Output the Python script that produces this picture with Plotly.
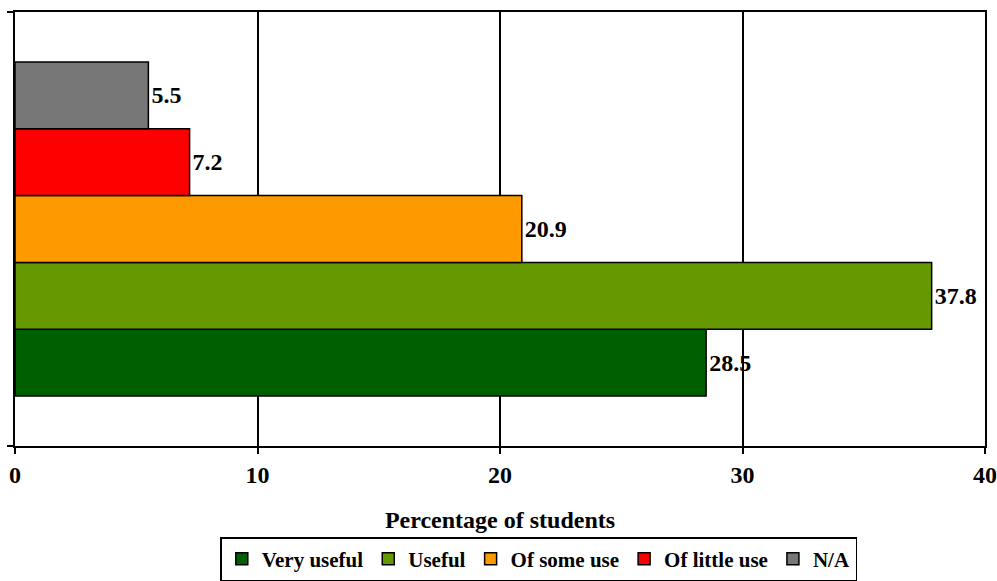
import plotly.graph_objects as go

series = ["Very useful", "Useful", "Of some use", "Of little use", "N/A"]
values = [28.5, 37.8, 20.9, 7.2, 5.5]
colors = ["#006000", "#669900", "#FF9900", "#FF0000", "#777777"]
x_ticks = [0, 10, 20, 30, 40]

font_family = "Liberation Serif, Times New Roman, serif"

fig = go.Figure()
for name, val, col in zip(series, values, colors):
    fig.add_trace(go.Bar(
        y=[0], x=[val], name=f"<b>{name}</b>", orientation="h",
        marker=dict(color=col, line=dict(color="black", width=1.5)),
        texttemplate="<b>%{x:.1f}</b>", textposition="outside",
        textfont=dict(family=font_family, size=24, color="black"),
        cliponaxis=False,
    ))

fig.update_layout(
    barmode="group",
    bargap=0.23,
    bargroupgap=0,
    width=997, height=581,
    margin=dict(l=15, r=12, t=12, b=135, autoexpand=False),
    plot_bgcolor="white", paper_bgcolor="white",
    font=dict(family=font_family, size=24, color="black"),
    showlegend=True,
    legend=dict(
        orientation="h", x=0.54, xanchor="center", y=-0.21, yanchor="top",
        bordercolor="black", borderwidth=1.5,
        font=dict(family=font_family, size=21, color="black"),
        itemwidth=30, tracegroupgap=0,
        traceorder="normal",
    ),
)
fig.update_xaxes(
    range=[0, 40], tickvals=x_ticks, ticktext=[f"<b>{t}</b>" for t in x_ticks],
    showgrid=True, gridcolor="black", gridwidth=1.5,
    showline=True, linecolor="black", linewidth=1.5, mirror=True,
    ticks="outside", ticklen=6, tickcolor="black", tickwidth=1.5,
    ticklabelstandoff=0,
    zeroline=False, automargin=False,
    title=dict(text="<b>Percentage of students</b>", font=dict(size=24), standoff=25),
    tickfont=dict(size=24),
)
fig.update_yaxes(
    range=[-0.5, 0.5], tickvals=[-0.5, 0.5], ticktext=["", ""],
    showgrid=False, zeroline=False, automargin=False,
    showline=True, linecolor="black", linewidth=1.5, mirror=True,
    ticks="outside", ticklen=6, tickcolor="black", tickwidth=1.5,
)

fig.write_html("out.html", config={"displayModeBar": False},
               post_script="document.body.style.margin='0';")
